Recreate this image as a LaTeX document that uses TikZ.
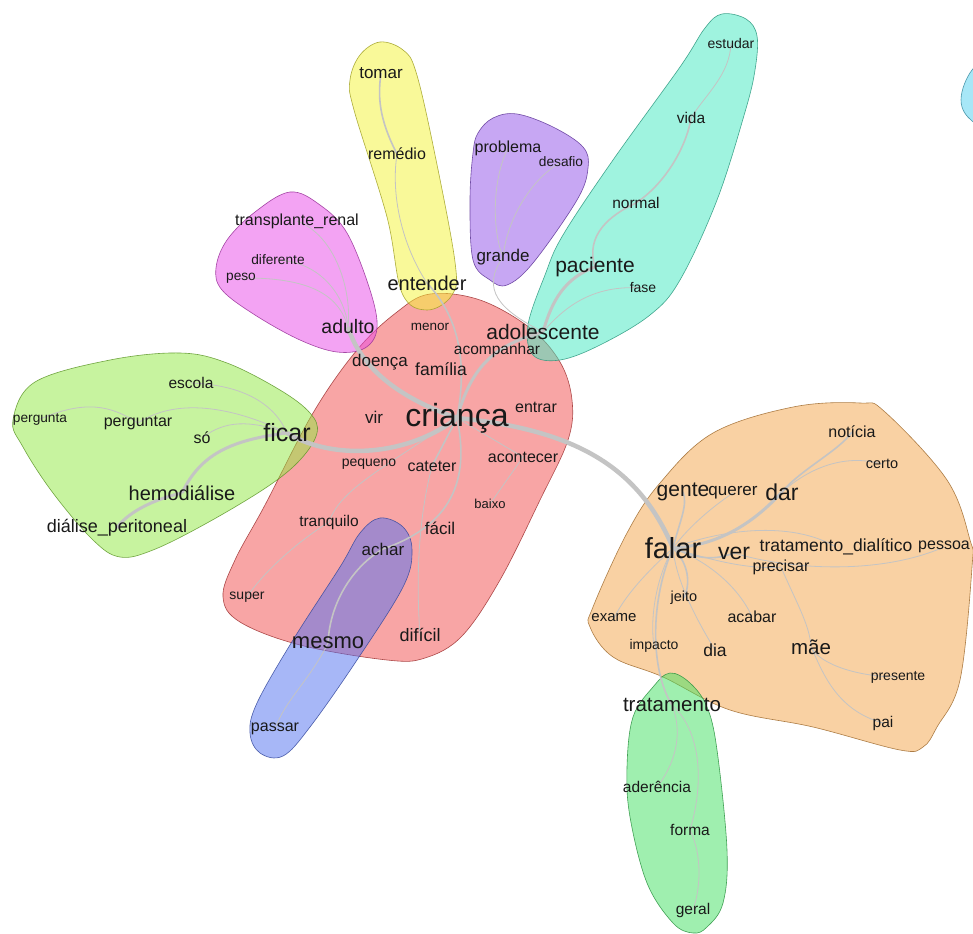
\documentclass[tikz,border=0pt]{standalone}
\usepackage{fontspec}
\setmainfont{Liberation Sans}
\pgfdeclarelayer{blobs}
\pgfdeclarelayer{edges}
\pgfsetlayers{blobs,edges,main}
\definecolor{cred}{RGB}{243,77,77}
\definecolor{cyel}{RGB}{245,245,53}
\definecolor{cmag}{RGB}{233,73,233}
\definecolor{cpur}{RGB}{145,81,233}
\definecolor{ccya}{RGB}{65,233,193}
\definecolor{cgrn}{RGB}{145,233,65}
\definecolor{cora}{RGB}{245,165,73}
\definecolor{cgrb}{RGB}{65,225,97}
\definecolor{cblu}{RGB}{81,113,241}
\definecolor{clbl}{RGB}{81,209,241}
\definecolor{edgec}{RGB}{196,196,196}
\definecolor{txt}{RGB}{25,25,25}
\tikzset{
  blob/.style={fill=#1, fill opacity=0.5, draw=#1!65!black, line width=0.6pt, draw opacity=0.85},
  word/.style={inner sep=0pt, text=txt, font=\fontsize{#1}{#1}\selectfont},
  ea/.style={draw=edgec, line width=0.8pt},
  eb/.style={draw=edgec, line width=1.6pt},
  ec/.style={draw=edgec, line width=3pt},
  ed/.style={draw=edgec, line width=4.5pt},
}
\begin{document}
\begin{tikzpicture}[x=1pt,y=-1pt]
\useasboundingbox (0,0) rectangle (973,933);
\begin{pgfonlayer}{blobs}
\fill[white] (0,0) rectangle (973,933);
\clip (0,0) rectangle (973,933);
% light blue partial blob
\draw[blob=clbl] plot[smooth cycle, tension=0.7] coordinates {(972,70) (990,62) (1000,95) (990,125) (972,121) (961,100)};
% red
\draw[blob=cred] plot[smooth cycle, tension=0.6] coordinates {(397,312) (430,294) (480,300) (530,328) (560,362) (572,400) (568,440) (540,500) (500,580) (462,636) (425,658) (387,660) (300,645) (240,622) (223,597) (235,560) (265,505) (313,413) (357,350)};
% yellow
\draw[blob=cyel] plot[smooth cycle, tension=0.6] coordinates {(380,42) (403,50) (416,72) (434,150) (455,262) (452,295) (427,310) (402,293) (387,217) (354,110) (350,80) (360,55)};
% magenta
\draw[blob=cmag] plot[smooth cycle, tension=0.6] coordinates {(290,192) (320,205) (347,233) (370,290) (377,328) (365,348) (337,352) (300,340) (255,315) (222,290) (216,268) (227,240) (255,212)};
% purple
\draw[blob=cpur] plot[smooth cycle, tension=0.6] coordinates {(493,118) (517,114) (553,127) (583,147) (588,168) (577,200) (533,263) (507,285) (490,280) (473,260) (470,200) (473,153) (478,133)};
% cyan
\draw[blob=ccya] plot[smooth cycle, tension=0.6] coordinates {(722,14) (746,19) (757,36) (755,70) (745,112) (717,200) (680,280) (650,315) (600,345) (560,360) (533,355) (528,325) (545,275) (563,235) (613,160) (680,67) (705,28)};
% light green
\draw[blob=cgrn] plot[smooth cycle, tension=0.6] coordinates {(180,353) (110,360) (35,382) (13,420) (23,447) (53,493) (93,540) (120,557) (153,550) (207,523) (267,487) (300,460) (317,433) (310,413) (280,390) (227,363)};
% blue
\draw[blob=cblu] plot[smooth cycle, tension=0.6] coordinates {(380,518) (403,527) (412,550) (403,587) (357,660) (310,727) (283,756) (260,753) (250,733) (257,703) (293,640) (340,567) (360,533)};
% orange
\draw[blob=cora] plot[smooth cycle, tension=0.6] coordinates {(860,403) (885,412) (947,480) (970,540) (972,567) (960,680) (937,727) (923,747) (900,750) (813,727) (730,710) (663,677) (613,657) (590,627) (593,607) (627,533) (660,483) (713,433) (793,407)};
% bottom green
\draw[blob=cgrb] plot[smooth cycle, tension=0.6] coordinates {(670,673) (690,683) (707,707) (717,750) (727,850) (723,903) (707,927) (693,933) (673,923) (647,883) (630,817) (627,767) (633,717) (653,687)};
\end{pgfonlayer}

% ---------- words ----------
\node[word=32] (crianca) at (457,418) {criança};
\node[word=13.5] (menor) at (430,327) {menor};
\node[word=17] (doenca) at (380,362) {doença};
\node[word=17.5] (familia) at (441,369) {família};
\node[word=15.5] (acompanhar) at (497,350) {acompanhar};
\node[word=21] (adolescente) at (543,332) {adolescente};
\node[word=16] (entrar) at (536,407) {entrar};
\node[word=17] (vir) at (374,417) {vir};
\node[word=14] (pequeno) at (369,464) {pequeno};
\node[word=16] (cateter) at (432,466) {cateter};
\node[word=16] (acontecer) at (523,457) {acontecer};
\node[word=13] (baixo) at (490,504) {baixo};
\node[word=17] (facil) at (440,528) {fácil};
\node[word=15.5] (tranquilo) at (329,522) {tranquilo};
\node[word=17] (achar) at (383,549) {achar};
\node[word=14] (super) at (247,597) {super};
\node[word=18] (dificil) at (420,635) {difícil};
\node[word=22] (mesmo) at (328,643) {mesmo};
\node[word=16] (passar) at (275,729) {passar};

\node[word=16] (transplante) at (297,221) {transplante\_renal};
\node[word=13.7] (diferente) at (278,260) {diferente};
\node[word=13.7] (peso) at (241,278) {peso};
\node[word=19.5] (adulto) at (348,327) {adulto};

\node[word=17] (tomar) at (381,73) {tomar};
\node[word=16] (remedio) at (397,154) {remédio};
\node[word=20] (entender) at (427,283) {entender};

\node[word=16] (problema) at (508,148) {problema};
\node[word=13.7] (desafio) at (561,162) {desafio};
\node[word=17] (grande) at (503,257) {grande};

\node[word=14] (estudar) at (731,43) {estudar};
\node[word=15.5] (vida) at (691,118) {vida};
\node[word=15.5] (normal) at (636,203) {normal};
\node[word=21] (paciente) at (595,267) {paciente};
\node[word=14] (fase) at (643,288) {fase};

\node[word=15.5] (escola) at (191,383) {escola};
\node[word=13.7] (pergunta) at (40,419) {pergunta};
\node[word=16] (perguntar) at (138,423) {perguntar};
\node[word=16] (so) at (202,438) {só};
\node[word=25] (ficar) at (287,433) {ficar};
\node[word=20] (hemodialise) at (182,493) {hemodiálise};
\node[word=18] (dialise) at (117,528) {diálise\_peritoneal};

\node[word=16] (noticia) at (852,432) {notícia};
\node[word=14.5] (certo) at (882,464) {certo};
\node[word=21] (gente) at (683,492) {gente};
\node[word=17] (querer) at (733,493) {querer};
\node[word=23] (dar) at (782,492) {dar};
\node[word=29] (falar) at (673,548) {falar};
\node[word=23] (ver) at (734,553) {ver};
\node[word=17.5] (tratdial) at (836,547) {tratamento\_dialítico};
\node[word=16] (pessoa) at (944,547) {pessoa};
\node[word=16] (precisar) at (781,567) {precisar};
\node[word=14.5] (jeito) at (684,598) {jeito};
\node[word=15] (exame) at (614,618) {exame};
\node[word=16] (acabar) at (752,617) {acabar};
\node[word=14] (impacto) at (654,646) {impacto};
\node[word=17.5] (dia) at (715,650) {dia};
\node[word=20.5] (mae) at (811,647) {mãe};
\node[word=14] (presente) at (898,677) {presente};
\node[word=15.5] (pai) at (883,723) {pai};
\node[word=20.5] (tratamento) at (672,705) {tratamento};

\node[word=15.5] (aderencia) at (657,787) {aderência};
\node[word=15.5] (forma) at (690,830) {forma};
\node[word=15.5] (geral) at (693,910) {geral};

% ---------- edges ----------
\begin{pgfonlayer}{edges}
% central
\path[ed] (crianca.center) .. controls (405,400) and (362,372) .. (adulto.center);
\path[ed] (crianca.center) .. controls (410,455) and (335,462) .. (ficar.center);
\path[ed] (crianca.center) .. controls (580,430) and (640,470) .. (falar.center);
\path[ec] (crianca.center) .. controls (472,365) and (495,345) .. (adolescente.center);
\path[eb] (crianca.center) .. controls (470,350) and (452,310) .. (entender.center);
\path[eb] (crianca.center) .. controls (470,480) and (452,525) .. (achar.center);
\path[eb] (crianca.center) -- (cateter.center);
\path[ea] (cateter.center) .. controls (418,520) and (416,580) .. (dificil.center);
\path[ea] (crianca.center) -- (acontecer.center);
\path[ea] (acontecer.center) -- (baixo.center);
\path[ea] (crianca.center) .. controls (380,470) and (340,490) .. (tranquilo.center);
\path[ea] (tranquilo.center) .. controls (300,540) and (265,570) .. (super.center);
\path[eb] (achar.center) .. controls (355,565) and (330,600) .. (mesmo.center);
\path[ea] (mesmo.center) .. controls (310,680) and (285,700) .. (passar.center);
% magenta
\path[ea] (adulto.center) .. controls (352,290) and (335,235) .. (transplante.center);
\path[ea] (adulto.center) .. controls (345,295) and (320,262) .. (diferente.center);
\path[ea] (adulto.center) .. controls (340,300) and (318,277) .. (peso.center);
% yellow
\path[ea] (entender.center) .. controls (405,250) and (390,200) .. (remedio.center);
\path[eb] (remedio.center) .. controls (378,117) and (378,95) .. (tomar.center);
% purple
\path[ea] (adolescente.center) .. controls (500,310) and (480,290) .. (grande.center);
\path[ea] (grande.center) .. controls (492,230) and (492,180) .. (problema.center);
\path[ea] (grande.center) .. controls (507,220) and (530,180) .. (desafio.center);
% cyan
\path[ec] (adolescente.center) .. controls (552,300) and (565,278) .. (paciente.center);
\path[eb] (paciente.center) .. controls (585,235) and (610,215) .. (normal.center);
\path[eb] (normal.center) .. controls (670,180) and (688,140) .. (vida.center);
\path[ea] (vida.center) .. controls (705,95) and (730,75) .. (estudar.center);
\path[ea] (adolescente.center) .. controls (570,300) and (600,285) .. (fase.center);
% green left
\path[ea] (ficar.center) .. controls (275,405) and (245,385) .. (escola.center);
\path[ea] (ficar.center) .. controls (240,410) and (180,395) .. (perguntar.center);
\path[ea] (perguntar.center) .. controls (110,405) and (85,400) .. (pergunta.center);
\path[ea] (ficar.center) .. controls (250,420) and (225,420) .. (so.center);
\path[ec] (ficar.center) .. controls (230,440) and (200,455) .. (hemodialise.center);
\path[ec] (hemodialise.center) .. controls (150,500) and (125,515) .. (dialise.center);
% orange
\path[ec] (falar.center) .. controls (730,545) and (765,510) .. (dar.center);
\path[eb] (dar.center) .. controls (800,470) and (840,450) .. (noticia.center);
\path[ea] (dar.center) .. controls (815,463) and (850,455) .. (certo.center);
\path[eb] (falar.center) .. controls (680,520) and (688,505) .. (gente.center);
\path[ea] (falar.center) .. controls (690,525) and (715,505) .. (querer.center);
\path[eb] (falar.center) .. controls (700,560) and (715,560) .. (ver.center);
\path[ea] (falar.center) .. controls (720,530) and (790,520) .. (tratdial.center);
\path[ea] (ver.center) .. controls (790,570) and (880,575) .. (pessoa.center);
\path[ea] (falar.center) .. controls (710,560) and (750,570) .. (precisar.center);
\path[eb] (falar.center) .. controls (690,565) and (690,585) .. (jeito.center);
\path[ea] (falar.center) .. controls (655,565) and (628,590) .. (exame.center);
\path[ea] (falar.center) .. controls (655,580) and (650,620) .. (impacto.center);
\path[eb] (falar.center) .. controls (650,600) and (650,670) .. (tratamento.center);
\path[ea] (falar.center) .. controls (676,585) and (703,630) .. (dia.center);
\path[ea] (falar.center) .. controls (722,567) and (745,600) .. (acabar.center);
\path[ea] (precisar.center) .. controls (795,600) and (810,625) .. (mae.center);
\path[ea] (mae.center) .. controls (820,665) and (860,677) .. (presente.center);
\path[ea] (mae.center) .. controls (822,670) and (835,710) .. (pai.center);
% bottom green
\path[ea] (tratamento.center) .. controls (682,730) and (678,760) .. (aderencia.center);
\path[ea] (tratamento.center) .. controls (700,730) and (705,780) .. (forma.center);
\path[ea] (forma.center) .. controls (703,857) and (700,890) .. (geral.center);
\end{pgfonlayer}
\end{tikzpicture}
\end{document}
